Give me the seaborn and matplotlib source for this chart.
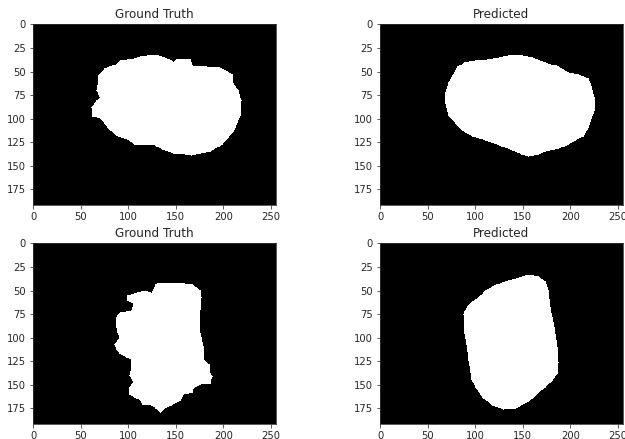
import numpy as np
import matplotlib
matplotlib.use("Agg")
import matplotlib.pyplot as plt
from matplotlib.path import Path
import seaborn as sns

IMG_H, IMG_W = 192, 256
x_ticks = [0, 50, 100, 150, 200, 250]
y_ticks = [0, 25, 50, 75, 100, 125, 150, 175]
titles = ["Ground Truth", "Predicted", "Ground Truth", "Predicted"]

# Mask outlines (image column x, image row y)
gt1_x = [120, 130, 138, 148, 152, 165, 168, 196, 210, 211, 216, 219, 218, 211, 199, 187, 166, 154,
         147, 136, 126, 106, 99, 87, 78, 71, 62, 61, 66, 71, 66, 69, 75, 87, 92, 106, 113]
gt1_y = [33, 32, 35, 39, 36, 37, 44, 46, 53, 63, 70, 81, 97, 114, 127, 135, 139, 137,
         137, 133, 127, 127, 122, 118, 109, 100, 98, 88, 81, 78, 70, 54, 47, 42, 38, 36, 34]

pr1_x = [146, 160, 174, 188, 198, 209, 219, 222, 225, 226, 223, 219, 214, 207, 198, 188, 174, 167,
         156, 149, 139, 125, 111, 97, 88, 79, 72, 69, 69, 72, 76, 81, 88, 100, 113, 125, 135]
pr1_y = [32, 35, 40, 45, 51, 53, 57, 66, 77, 88, 97, 109, 119, 122, 127, 132, 135, 138,
         140, 138, 134, 128, 123, 119, 114, 105, 97, 84, 72, 62, 54, 45, 40, 38, 37, 35, 33]

gt2_x = [131, 141, 155, 168, 176, 177, 176, 175, 177, 179, 180, 185, 186, 189, 186, 176, 169, 168,
         158, 155, 145, 138, 134, 129, 124, 115, 113, 106, 101, 101, 105, 101, 103, 103, 98, 91,
         87, 85, 91, 89, 87, 87, 92, 103, 105, 99, 99, 106, 117, 124, 127]
gt2_y = [41, 41, 41, 44, 50, 57, 70, 89, 100, 109, 124, 128, 138, 141, 149, 150, 154, 158,
         160, 167, 172, 175, 179, 175, 172, 171, 167, 163, 160, 153, 147, 140, 131, 123, 121, 117,
         112, 107, 101, 94, 89, 78, 73, 71, 64, 61, 55, 53, 50, 52, 47]

pr2_x = [156, 167, 174, 177, 179, 183, 187, 188, 186, 181, 174, 167, 156, 142, 130, 118, 107, 100,
         96, 93, 91, 88, 87, 92, 100, 111, 123, 135, 146]
pr2_y = [33, 35, 40, 50, 68, 89, 116, 126, 138, 145, 153, 158, 168, 175, 176, 172, 163, 153,
         144, 124, 107, 89, 75, 67, 59, 50, 43, 39, 36]

outlines = [(gt1_x, gt1_y), (pr1_x, pr1_y), (gt2_x, gt2_y), (pr2_x, pr2_y)]


def rasterize(xs, ys):
    cols, rows = np.meshgrid(np.arange(IMG_W), np.arange(IMG_H))
    pts = np.column_stack([cols.ravel(), rows.ravel()])
    inside = Path(np.column_stack([xs, ys])).contains_points(pts)
    return inside.reshape(IMG_H, IMG_W).astype(float)


DPI = 72
fig = plt.figure(figsize=(625 / DPI, 439 / DPI), dpi=DPI)
W, H = 625, 439
boxes = [(33, 24), (380, 24), (33, 243), (380, 243)]
aw, ah = 243, 181
TXT = "#262626"

for (xs, ys), (px, py), title in zip(outlines, boxes, titles):
    ax = fig.add_axes([px / W, (H - py - ah) / H, aw / W, ah / H])
    mask = rasterize(xs, ys)
    sns.heatmap(mask, cmap="gray", vmin=0, vmax=1, cbar=False, ax=ax,
                xticklabels=False, yticklabels=False, rasterized=True)
    ax.set_xticks(np.array(x_ticks) + 0.5)
    ax.set_xticklabels([str(t) for t in x_ticks], rotation=0)
    ax.set_yticks(np.array(y_ticks) + 0.5)
    ax.set_yticklabels([str(t) for t in y_ticks], rotation=0)
    ax.tick_params(length=3.5, width=0.8, labelsize=10, colors="#333333", labelcolor=TXT)
    for s in ax.spines.values():
        s.set_visible(True)
        s.set_linewidth(0.8)
        s.set_color("#333333")
    ax.set_title(title, fontsize=12, color=TXT)

fig.savefig("out.png", dpi=DPI)
